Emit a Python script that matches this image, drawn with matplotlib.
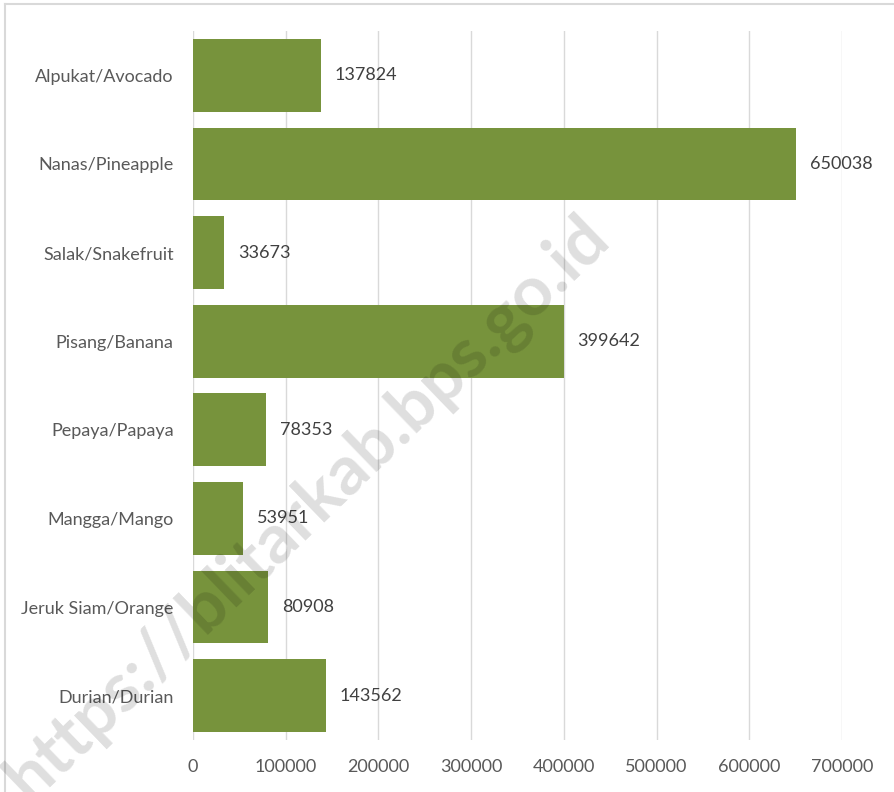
import matplotlib.pyplot as plt
from matplotlib.lines import Line2D

categories = ['Alpukat/Avocado', 'Nanas/Pineapple', 'Salak/Snakefruit', 'Pisang/Banana',
              'Pepaya/Papaya', 'Mangga/Mango', 'Jeruk Siam/Orange', 'Durian/Durian']
values = [137824, 650038, 33673, 399642, 78353, 53951, 80908, 143562]
xticks = [0, 100000, 200000, 300000, 400000, 500000, 600000, 700000]
watermark = 'https://blitarkab.bps.go.id'

plt.rcParams['font.family'] = ['Lato', 'DejaVu Sans']

W, H = 894, 792
fig = plt.figure(figsize=(W / 100, H / 100), dpi=100)
ax = fig.add_axes([193 / W, 1 - 740 / H, (842 - 193) / W, (740 - 31) / H])

ypos = list(range(len(categories)))
ax.barh(ypos, values, height=0.82, color='#77933C', zorder=2)
ax.set_ylim(len(categories) - 0.5, -0.5)
ax.set_xlim(0, 700000)
ax.set_yticks(ypos)
ax.set_yticklabels(categories, fontsize=13, color='#595959')
ax.set_xticks(xticks)
ax.set_xticklabels([str(t) for t in xticks], fontsize=13, color='#595959')
ax.tick_params(axis='y', length=0, pad=14)
ax.tick_params(axis='x', length=0, pad=14)
for s in ax.spines.values():
    s.set_visible(False)
ax.grid(axis='x', color='#d9d9d9', linewidth=1.0, zorder=0)
ax.set_axisbelow(True)

# value labels
for y, v in zip(ypos, values):
    ax.annotate(str(v), (v, y), xytext=(10, 0), textcoords='offset points',
                va='center', ha='left', fontsize=13, color='#404040', zorder=3)

# outer border (top and left visible)
fig.add_artist(Line2D([5 / W, 5 / W], [0, 1 - 4 / H], transform=fig.transFigure,
                      color='#d9d9d9', linewidth=1.5))
fig.add_artist(Line2D([5 / W, 1], [1 - 4 / H, 1 - 4 / H], transform=fig.transFigure,
                      color='#d9d9d9', linewidth=1.5))

# watermark
fig.text(308 / W, 1 - 508 / H, watermark, rotation=44, rotation_mode='anchor',
         ha='center', va='center', fontsize=50, fontweight='bold',
         color='black', alpha=0.13, zorder=10)

fig.savefig('out.png', dpi=100)
